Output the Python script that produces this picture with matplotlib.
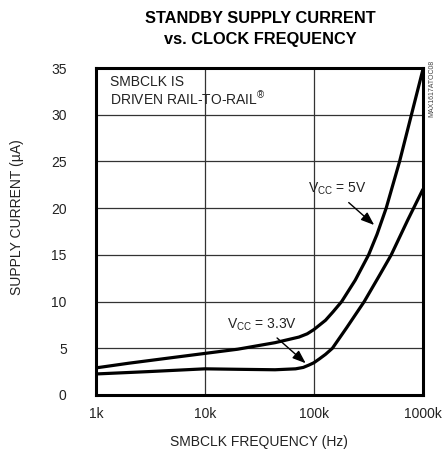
import matplotlib
matplotlib.use("Agg")
import matplotlib.pyplot as plt
from matplotlib.ticker import FixedLocator, NullLocator

plt.rcParams['font.family'] = ['Liberation Sans Narrow', 'Liberation Sans', 'DejaVu Sans']
plt.rcParams['mathtext.fontset'] = 'custom'
plt.rcParams['mathtext.rm'] = 'Liberation Sans'
plt.rcParams['mathtext.it'] = 'Liberation Sans'

# data (frequency in Hz, current in uA)
f_5v = [1e3, 2e3, 5e3, 10e3, 20e3, 44e3, 73e3, 87e3, 100e3, 128e3, 150e3, 180e3, 240e3,
        318e3, 380e3, 461e3, 612e3, 786e3, 1000e3]
i_5v = [2.9, 3.4, 4.0, 4.45, 4.9, 5.6, 6.2, 6.55, 7.0, 8.0, 8.9, 10.0, 12.3,
        15.0, 17.2, 20.0, 25.0, 30.0, 34.8]
f_33v = [1e3, 3e3, 10e3, 20e3, 44e3, 68e3, 80e3, 90e3, 100e3, 112e3, 128e3, 148e3, 200e3,
         290e3, 400e3, 513e3, 725e3, 1000e3]
i_33v = [2.25, 2.5, 2.8, 2.75, 2.7, 2.8, 2.95, 3.2, 3.45, 3.85, 4.35, 5.0, 7.2,
         10.0, 12.8, 15.0, 18.7, 22.0]

x_ticks = [1e3, 1e4, 1e5, 1e6]
x_tick_labels = ['1k', '10k', '100k', '1000k']
y_ticks = [0, 5, 10, 15, 20, 25, 30, 35]

fig = plt.figure(figsize=(4.46, 4.54), dpi=100)
ax = fig.add_axes([0.215, 0.130, 0.733, 0.720])

ax.plot(f_5v, i_5v, color='black', lw=2.3, solid_capstyle='round', solid_joinstyle='round')
ax.plot(f_33v, i_33v, color='black', lw=2.3, solid_capstyle='round', solid_joinstyle='round')

ax.set_xscale('log')
ax.set_xlim(1e3, 1e6)
ax.set_ylim(0, 35)
ax.xaxis.set_major_locator(FixedLocator(x_ticks))
ax.xaxis.set_minor_locator(NullLocator())
ax.set_xticks(x_ticks)
ax.set_xticklabels(x_tick_labels)
ax.set_yticks(y_ticks)
ax.tick_params(axis='both', length=0, labelsize=10, colors='#222222')
ax.tick_params(axis='x', pad=9)
ax.tick_params(axis='y', pad=21)
ax.grid(True, color='#333333', lw=0.9)
for s in ax.spines.values():
    s.set_linewidth(2.2)
    s.set_color('black')

ax.set_xlabel('SMBCLK FREQUENCY (Hz)', fontsize=10, color='#222222', labelpad=10)
ax.set_ylabel('SUPPLY CURRENT (\u00b5A)', fontsize=10, color='#222222')
ax.yaxis.set_label_coords(-0.22, 0.544)

fig.text(0.583, 0.936, 'STANDBY SUPPLY CURRENT\nvs. CLOCK FREQUENCY', ha='center', va='center',
         fontsize=11.8, fontweight='bold', linespacing=1.45)

ax.text(1.36e3, 34.3, 'SMBCLK IS\nDRIVEN RAIL-TO-RAIL$^{\\circledR}$', ha='left', va='top',
        fontsize=10, color='#222222', linespacing=1.1)

ax.annotate('', xy=(374e3, 18.0), xytext=(200e3, 20.8),
            arrowprops=dict(arrowstyle='-|>,head_length=0.8,head_width=0.3', color='black', lw=1.0))
ax.text(88e3, 22.1, 'V$_{\\mathrm{CC}}$ = 5V', ha='left', va='center', fontsize=10, color='#222222')

ax.annotate('', xy=(88e3, 3.2), xytext=(44e3, 6.3),
            arrowprops=dict(arrowstyle='-|>,head_length=0.8,head_width=0.3', color='black', lw=1.0))
ax.text(16e3, 7.5, 'V$_{\\mathrm{CC}}$ = 3.3V', ha='left', va='center', fontsize=10, color='#222222')

fig.text(0.9675, 0.806, 'MAX1617ATOC08', rotation=90, ha='center', va='center', fontsize=5, color='#444444')

fig.savefig('out.png', dpi=100)
